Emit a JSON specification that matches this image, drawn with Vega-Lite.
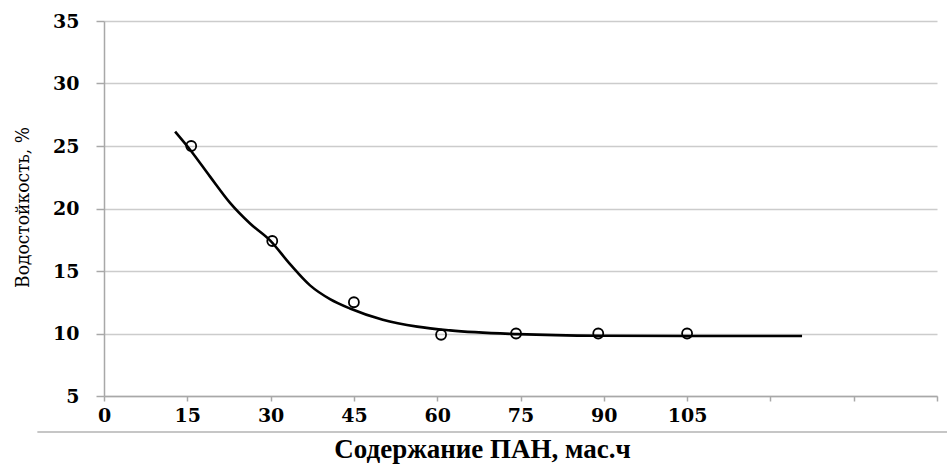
{
  "$schema": "https://vega.github.io/schema/vega-lite/v6.json",
  "width": 833,
  "height": 375,
  "autosize": "none",
  "padding": {"left": 104, "top": 21, "right": 10, "bottom": 70},
  "background": "white",
  "config": {"view": {"stroke": null}},
  "datasets": {
    "curve": [
      {"x": 12.8, "y": 26.15},
      {"x": 15.5, "y": 24.7},
      {"x": 19.1, "y": 22.55},
      {"x": 22.7, "y": 20.45},
      {"x": 26.3, "y": 18.8},
      {"x": 29.9, "y": 17.45},
      {"x": 33.5, "y": 15.55},
      {"x": 37.1, "y": 13.85},
      {"x": 40.7, "y": 12.75},
      {"x": 44.3, "y": 12.0},
      {"x": 50.2, "y": 11.1},
      {"x": 56.4, "y": 10.55},
      {"x": 62.3, "y": 10.25},
      {"x": 74.5, "y": 9.95},
      {"x": 89.3, "y": 9.82},
      {"x": 107, "y": 9.8},
      {"x": 125.7, "y": 9.8}
    ],
    "points": [
      {"x": 15.7, "y": 25.0},
      {"x": 30.3, "y": 17.4},
      {"x": 45.0, "y": 12.5},
      {"x": 60.7, "y": 9.9},
      {"x": 74.2, "y": 10.0},
      {"x": 89.0, "y": 10.0},
      {"x": 105.0, "y": 10.0}
    ],
    "separator": [
      {"x0": -12, "x1": 152, "y": 2.12}
    ]
  },
  "layer": [
    {
      "data": {"name": "curve"},
      "mark": {"type": "line", "interpolate": "monotone", "color": "black", "strokeWidth": 2.6},
      "encoding": {
        "x": {
          "field": "x", "type": "quantitative",
          "scale": {"domain": [0, 150], "nice": false, "zero": false},
          "axis": {
            "values": [0, 15, 30, 45, 60, 75, 90, 105, 120, 135, 150],
            "labelExpr": "datum.value <= 105 ? datum.label : ''",
            "grid": false,
            "domainColor": "#a8a8a8",
            "domainWidth": 1.5,
            "tickColor": "#a8a8a8",
            "tickWidth": 1.5,
            "tickSize": 5,
            "labelFont": "DejaVu Serif",
            "labelFontWeight": "bold",
            "labelFontSize": 19,
            "labelColor": "black",
            "labelPadding": 5,
            "labelBaseline": "top",
            "labelFlush": false,
            "title": "Содержание ПАН, мас.ч",
            "titleFont": "Liberation Serif",
            "titleFontWeight": "bold",
            "titleFontSize": 27,
            "titleColor": "black",
            "titleX": 378,
            "titleY": 61,
            "titleAlign": "center",
            "titleBaseline": "alphabetic"
          }
        },
        "y": {
          "field": "y", "type": "quantitative",
          "scale": {"domain": [5, 35], "nice": false, "zero": false},
          "axis": {
            "values": [5, 10, 15, 20, 25, 30, 35],
            "grid": true,
            "gridColor": "#cccccc",
            "gridWidth": 1.5,
            "domainColor": "#a8a8a8",
            "domainWidth": 1.5,
            "tickColor": "#a8a8a8",
            "tickWidth": 1.5,
            "tickSize": 8,
            "labelFont": "DejaVu Serif",
            "labelFontWeight": "bold",
            "labelFontSize": 19,
            "labelColor": "black",
            "labelPadding": 17,
            "labelFlush": false,
            "title": "Водостойкость, %",
            "titleFont": "DejaVu Serif Condensed, Liberation Serif",
            "titleFontWeight": "normal",
            "titleFontSize": 19,
            "titleColor": "black",
            "titleAngle": -90,
            "titleX": -82,
            "titleY": 186,
            "titleAlign": "center",
            "titleBaseline": "middle"
          }
        }
      }
    },
    {
      "data": {"name": "separator"},
      "mark": {"type": "rule", "color": "#c6c6c6", "strokeWidth": 2, "clip": false},
      "encoding": {
        "x": {"field": "x0", "type": "quantitative"},
        "x2": {"field": "x1"},
        "y": {"field": "y", "type": "quantitative"}
      }
    },
    {
      "data": {"name": "points"},
      "mark": {"type": "point", "shape": "circle", "filled": false, "color": "black", "size": 100, "strokeWidth": 1.8, "opacity": 1},
      "encoding": {
        "x": {"field": "x", "type": "quantitative"},
        "y": {"field": "y", "type": "quantitative"}
      }
    }
  ]
}
